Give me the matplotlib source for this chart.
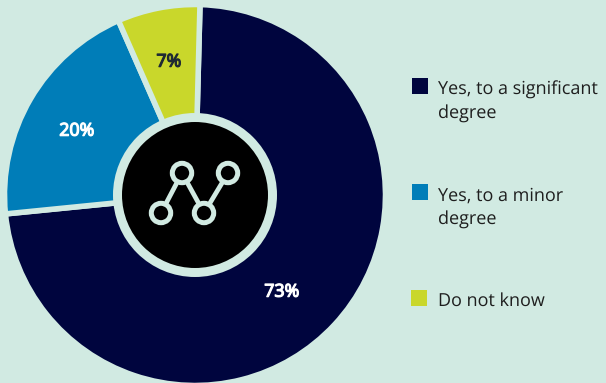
import matplotlib.pyplot as plt
import matplotlib.patheffects as pe
from matplotlib.patches import Circle, Rectangle

plt.rcParams['font.family'] = ['Open Sans', 'DejaVu Sans']
plt.rcParams['text.hinting'] = 'no_hinting'
plt.rcParams['text.hinting_factor'] = 1

categories = ['Yes, to a significant\ndegree', 'Yes, to a minor\ndegree', 'Do not know']
values = [73, 20, 7]
colors = ['#00053E', '#007DB8', '#C9D72B']
label_colors = ['white', 'white', '#1F2A33']

BG = '#D1EAE2'
H = 383

fig = plt.figure(figsize=(6.06, 3.83), dpi=100, facecolor=BG)
ax = fig.add_axes([0, 0, 1, 1])

# donut, with gaps drawn in the background colour
wedges, _ = ax.pie(values, colors=colors, startangle=88.5, counterclock=False,
                   center=(195, H - 195), radius=190.5, frame=True,
                   wedgeprops={'edgecolor': BG, 'linewidth': 4})
ax.set_xlim(0, 606)
ax.set_ylim(0, H)
ax.set_aspect('equal')
ax.axis('off')

# percentages, thickened with a stroke of the same colour
label_pos = [(282, 292), (77, 131), (169, 62)]
for v, (x, y), c in zip(values, label_pos, label_colors):
    ax.text(x, H - y, f'{v}%', color=c, fontsize=12.8, ha='center', va='center',
            path_effects=[pe.withStroke(linewidth=0.9, foreground=c)])

# centre badge
ax.add_patch(Circle((195, H - 195), 82, fc=BG, ec='none', zorder=5))
ax.add_patch(Circle((195, H - 195), 73, fc='black', ec='none', zorder=6))

# line icon inside the badge
nodes = [(161, 213), (182, 173), (204, 213), (228, 173)]
ax.plot([n[0] for n in nodes], [H - n[1] for n in nodes], color=BG, lw=3.4, zorder=7)
for x, y in nodes:
    ax.add_patch(Circle((x, H - y), 9.7, fc='black', ec=BG, lw=3.6, zorder=8))

# legend
legend_y = [86, 192, 298]
legend_x = [412, 412, 411]
text_y = [102, 208, 301]
for name, c, x, y, ty in zip(categories, colors, legend_x, legend_y, text_y):
    ax.add_patch(Rectangle((x, H - y - 8), 16, 16, fc=c, ec='none'))
    ax.text(438, H - ty, name, color='#1E1E1E', fontsize=13.3, ha='left', va='center',
            linespacing=1.42)

fig.savefig('out.png', dpi=100, facecolor=BG)
